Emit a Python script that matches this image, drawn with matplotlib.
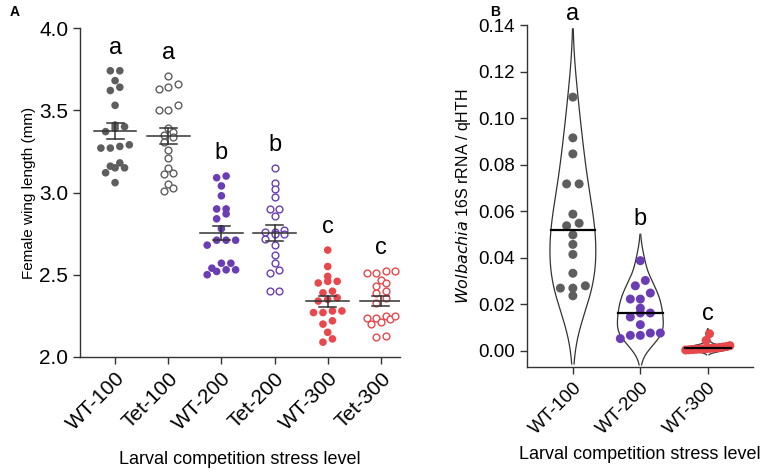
import numpy as np
import matplotlib.pyplot as plt

plt.rcParams['font.family'] = ['Liberation Sans', 'DejaVu Sans']

# panel A: female wing length (mm)
groups_a = ['WT-100', 'Tet-100', 'WT-200', 'Tet-200', 'WT-300', 'Tet-300']
wt100_a = [3.74, 3.74, 3.68, 3.64, 3.62, 3.53, 3.41, 3.40, 3.39, 3.37,
           3.29, 3.28, 3.27, 3.27, 3.18, 3.16, 3.15, 3.15, 3.12, 3.06]
tet100_a = [3.71, 3.66, 3.64, 3.63, 3.53, 3.50, 3.50, 3.39, 3.37, 3.35,
            3.34, 3.31, 3.26, 3.21, 3.15, 3.12, 3.11, 3.05, 3.03, 3.01]
wt200_a = [3.10, 3.09, 3.04, 2.98, 2.90, 2.90, 2.87, 2.84, 2.78, 2.71,
           2.71, 2.71, 2.68, 2.57, 2.57, 2.54, 2.53, 2.53, 2.52, 2.50]
tet200_a = [3.15, 3.06, 3.02, 2.97, 2.90, 2.90, 2.86, 2.77, 2.76, 2.76,
            2.75, 2.75, 2.72, 2.68, 2.62, 2.57, 2.53, 2.51, 2.40, 2.40]
wt300_a = [2.65, 2.55, 2.49, 2.46, 2.46, 2.45, 2.40, 2.39, 2.36, 2.35,
           2.34, 2.28, 2.28, 2.27, 2.27, 2.22, 2.20, 2.15, 2.11, 2.09]
tet300_a = [2.52, 2.52, 2.51, 2.51, 2.47, 2.45, 2.43, 2.40, 2.39, 2.36,
            2.33, 2.24, 2.25, 2.23, 2.25, 2.24, 2.21, 2.20, 2.13, 2.12]
letters_a = ['a', 'a', 'b', 'b', 'c', 'c']

# panel B: Wolbachia 16S rRNA / qHTH
groups_b = ['WT-100', 'WT-200', 'WT-300']
wt100_b = [0.109, 0.0915, 0.0846, 0.0717, 0.0717, 0.0587, 0.0548, 0.0537,
           0.0498, 0.0457, 0.0414, 0.0333, 0.0279, 0.0269, 0.0269, 0.0236]
wt200_b = [0.0387, 0.0302, 0.0279, 0.0248, 0.0222, 0.0222, 0.0183, 0.0162,
           0.0162, 0.0145, 0.0112, 0.0076, 0.0076, 0.0066, 0.0066, 0.0052]
wt300_b = [0.0073, 0.0044, 0.0022, 0.0018, 0.0016, 0.0014, 0.0012, 0.0011,
           0.0010, 0.0009, 0.0008, 0.0007, 0.0006, 0.0005, 0.0004, 0.0003]
letters_b = ['a', 'b', 'c']

GRAY = '#5e5e5e'
PURPLE = '#6a3db5'
RED = '#e8474c'
INK = '#333333'


def swarm(vals, sx, sy, binh, spacing):
    # GraphPad-like scatter: points whose y falls in the same pixel band are
    # spread symmetrically side by side
    vals = np.asarray(vals, dtype=float)
    offs = np.zeros(len(vals))
    order = np.argsort(vals)
    rows, cur = [], [order[0]]
    for i in order[1:]:
        if (vals[i] - vals[cur[0]]) * sy < binh:
            cur.append(i)
        else:
            rows.append(cur)
            cur = [i]
    rows.append(cur)
    for r in rows:
        n = len(r)
        for j, i in enumerate(r):
            offs[i] = (j - (n - 1) / 2.0) * spacing / sx
    return offs


def kde(vals, cut=2.0, n=300):
    v = np.asarray(vals, dtype=float)
    bw = v.std(ddof=1) * len(v) ** (-0.2)
    ys = np.linspace(v.min() - cut * bw, v.max() + cut * bw, n)
    d = np.exp(-0.5 * ((ys[:, None] - v[None, :]) / bw) ** 2).sum(1)
    return ys, d / d.max()


def style(ax, size):
    for s in ['top', 'right']:
        ax.spines[s].set_visible(False)
    for s in ['left', 'bottom']:
        ax.spines[s].set_color(INK)
        ax.spines[s].set_linewidth(1.0)
    ax.tick_params(colors=INK, length=5, width=1.0, labelsize=size, labelcolor='black')


fig = plt.figure(figsize=(7.67, 4.72), dpi=100)

# ---------------- panel A ----------------
axA = fig.add_axes([80 / 767, 115 / 472, 320 / 767, 329 / 472])
data_a = [wt100_a, tet100_a, wt200_a, tet200_a, wt300_a, tet300_a]
cols_a = [GRAY, GRAY, PURPLE, PURPLE, RED, RED]
filled = [True, False, True, False, True, False]
for i, (vals, c, f) in enumerate(zip(data_a, cols_a, filled)):
    v = np.array(vals)
    xo = swarm(v, 53.3, 164.7, 6.0, 9.5)
    if f:
        axA.scatter(i + xo, v, s=30, color=c, edgecolor='none', zorder=3)
    else:
        axA.scatter(i + xo, v, s=24, facecolor='white', edgecolor=c, linewidth=1.0, zorder=3)
    m = v.mean()
    se = v.std(ddof=1) / np.sqrt(len(v))
    axA.plot([i - 0.4, i + 0.4], [m, m], color=INK, lw=1.1, zorder=4)
    axA.plot([i, i], [m - se, m + se], color=INK, lw=1.1, zorder=4)
    for yy in (m - se, m + se):
        axA.plot([i - 0.16, i + 0.16], [yy, yy], color=INK, lw=1.1, zorder=4)
    axA.text(i, v.max() + 0.14, letters_a[i], ha='center', va='center', fontsize=17)

axA.set_xlim(-0.66, 5.36)
axA.set_ylim(2.0, 4.0)
axA.set_yticks([2.0, 2.5, 3.0, 3.5, 4.0])
axA.set_yticklabels(['2.0', '2.5', '3.0', '3.5', '4.0'])
axA.set_xticks(range(len(groups_a)))
axA.set_xticklabels(groups_a, rotation=45, ha='right', rotation_mode='anchor')
style(axA, 15)
axA.set_ylabel('Female wing length (mm)', fontsize=11, labelpad=2)
axA.set_xlabel('Larval competition stress level', fontsize=13, labelpad=12)
fig.text(10 / 767, 1 - 12 / 472, 'A', fontsize=10, fontweight='bold', va='center')

# ---------------- panel B ----------------
axB = fig.add_axes([527 / 767, 105 / 472, 226 / 767, 342 / 472])
data_b = [wt100_b, wt200_b, wt300_b]
cols_b = [GRAY, PURPLE, RED]
spacing_b = [12.5, 10.0, 3.4]
half = 0.34
for i, (vals, c, sp) in enumerate(zip(data_b, cols_b, spacing_b)):
    v = np.array(vals)
    ys, d = kde(v)
    axB.plot(i - half * d, ys, color=INK, lw=0.9, zorder=2)
    axB.plot(i + half * d, ys, color=INK, lw=0.9, zorder=2)
    xo = swarm(v, 67.5, 2330.0, 7.0, sp)
    axB.scatter(i + xo, v, s=42, color=c, edgecolor='none', zorder=3)
    med = np.median(v)
    w = half * np.interp(med, ys, d)
    axB.plot([i - w, i + w], [med, med], color='black', lw=1.6, zorder=4)
    axB.text(i, ys.max() + 0.0065, letters_b[i], ha='center', va='center',
             fontsize=17, clip_on=False)

axB.set_xlim(-0.68, 2.67)
axB.set_ylim(-0.007, 0.14)
axB.set_yticks(np.arange(0, 0.141, 0.02))
axB.set_yticklabels(['%.2f' % t for t in np.arange(0, 0.141, 0.02)])
axB.set_xticks(range(len(groups_b)))
axB.set_xticklabels(groups_b, rotation=45, ha='right', rotation_mode='anchor')
style(axB, 13.5)
axB.set_ylabel(r'$\it{Wolbachia}$ 16S rRNA / qHTH', fontsize=11.5, labelpad=4)
axB.set_xlabel('Larval competition stress level', fontsize=13, labelpad=6)
fig.text(490 / 767, 1 - 12 / 472, 'B', fontsize=10, fontweight='bold', va='center')

fig.savefig('out.png', dpi=100)
